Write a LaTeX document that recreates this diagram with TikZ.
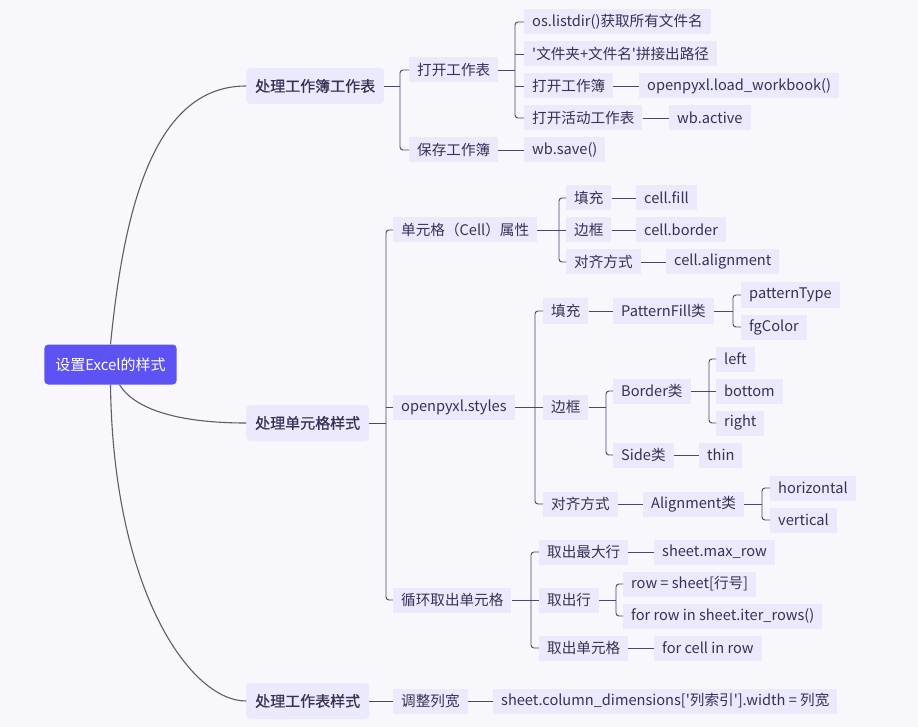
\documentclass[tikz,border=0pt]{standalone}
\usepackage{fontspec}
\setmainfont{Noto Sans CJK SC}
\newfontfamily\topicfont{Noto Sans CJK SC}[FakeBold=0.7]
\definecolor{bg}{HTML}{F7F7FC}
\definecolor{rootpurple}{HTML}{5D52F4}
\definecolor{nodefill}{HTML}{EBE9FC}
\definecolor{ink}{HTML}{3A2F55}
\definecolor{linecol}{HTML}{4E4470}
\definecolor{curvecol}{HTML}{5E5E62}
\tikzset{
  root/.style={fill=rootpurple, text=white, rounded corners=4pt, minimum height=40pt, inner xsep=11pt, font=\fontsize{15}{18}\selectfont},
  topic/.style={fill=nodefill, text=ink, rounded corners=4pt, minimum height=36pt, inner xsep=9pt, anchor=west, font=\fontsize{15}{18}\topicfont},
  leaf/.style={fill=nodefill, text=ink, minimum height=25pt, inner xsep=8pt, anchor=west, font=\fontsize{14.6}{17}\selectfont},
  branch/.style={draw=curvecol, line width=1.1pt},
  link/.style={draw=linecol, line width=0.9pt},
}
\begin{document}
\begin{tikzpicture}[x=1pt,y=-1pt]
\fill[bg] (0,0) rectangle (918,727);
\useasboundingbox (0,0) rectangle (918,727);
% root and topics
\node[root] (root) at (110.5,364.5) {设置Excel的样式};
\node[topic] (wb) at (246,86) {处理工作簿工作表};
\node[topic] (cellsty) at (246,423) {处理单元格样式};
\node[topic] (wssty) at (246,701) {处理工作表样式};
\draw[branch] (root.north) .. controls (123,220) and (150,86) .. (wb.west);
\draw[branch] ([xshift=9pt]root.south) .. controls (135,410) and (180,423) .. (cellsty.west);
\draw[branch] (root.south) .. controls (113,590) and (190,701) .. (wssty.west);

% workbook / worksheet
\node[leaf] (open) at (409,70) {打开工作表};
\node[leaf] (save) at (409,150) {保存工作簿};
\node[leaf] (listdir) at (524,22) {os.listdir()获取所有文件名};
\node[leaf] (path) at (524,54) {\textquotesingle 文件夹+文件名\textquotesingle 拼接出路径};
\node[leaf] (openwb) at (524,86) {打开工作簿};
\node[leaf] (loadwb) at (639,86) {openpyxl.load\_workbook()};
\node[leaf] (openws) at (524,118) {打开活动工作表};
\node[leaf] (active) at (669,118) {wb.active};
\node[leaf] (wbsave) at (524,150) {wb.save()};
\coordinate (b1) at (400,0);
\coordinate (b2) at (515,0);
\draw[link] (wb.east) -- (wb.east -| b1);
\draw[link,rounded corners=3pt] (open.west) -- (open.west -| b1) -- (save.west -| b1) -- (save.west);
\draw[link] (open.east) -- (open.east -| b2);
\draw[link,rounded corners=3pt] (listdir.west) -- (listdir.west -| b2) -- (openws.west -| b2) -- (openws.west);
\foreach \c in {path,openwb}
  \draw[link] (\c.west) -- (\c.west -| b2);
\draw[link] (openwb) -- (loadwb);
\draw[link] (openws) -- (active);
\draw[link] (save) -- (wbsave);

% cell styles
\node[leaf] (cellattr) at (393,230) {单元格（Cell）属性};
\node[leaf] (styles) at (393,407) {openpyxl.styles};
\node[leaf] (loop) at (393,600) {循环取出单元格};
\coordinate (b3) at (386,0);
\draw[link] (cellsty.east) -- (cellsty.east -| b3);
\draw[link,rounded corners=3pt] (cellattr.west) -- (cellattr.west -| b3) -- (loop.west -| b3) -- (loop.west);
\draw[link] (styles.west) -- (styles.west -| b3);

\node[leaf] (fill1) at (566,198) {填充};
\node[leaf] (cellfill) at (636,198) {cell.fill};
\node[leaf] (border1) at (566,230) {边框};
\node[leaf] (cellborder) at (636,230) {cell.border};
\node[leaf] (align1) at (566,262) {对齐方式};
\node[leaf] (cellalign) at (666,262) {cell.alignment};
\coordinate (b4) at (559,0);
\draw[link] (cellattr.east) -- (cellattr.east -| b4);
\draw[link,rounded corners=3pt] (fill1.west) -- (fill1.west -| b4) -- (align1.west -| b4) -- (align1.west);
\draw[link] (border1.west) -- (border1.west -| b4);
\draw[link] (fill1) -- (cellfill);
\draw[link] (border1) -- (cellborder);
\draw[link] (align1) -- (cellalign);

\node[leaf] (fill2) at (543,311) {填充};
\node[leaf] (patfill) at (613,311) {PatternFill类};
\node[leaf] (pattype) at (741,295) {patternType};
\node[leaf] (fgcolor) at (741,327) {fgColor};
\node[leaf] (border2) at (543,407) {边框};
\node[leaf] (borderc) at (613,391) {Border类};
\node[leaf] (left) at (716,359) {left};
\node[leaf] (bottom) at (716,391) {bottom};
\node[leaf] (right) at (716,423) {right};
\node[leaf] (side) at (613,455) {Side类};
\node[leaf] (thin) at (699,455) {thin};
\node[leaf] (align2) at (543,504) {对齐方式};
\node[leaf] (alignc) at (643,504) {Alignment类};
\node[leaf] (horiz) at (770,488) {horizontal};
\node[leaf] (vert) at (770,520) {vertical};
\coordinate (b5) at (535,0);
\coordinate (b6) at (733,0);
\coordinate (b7) at (606,0);
\coordinate (b8) at (709,0);
\coordinate (b9) at (762,0);
\draw[link] (styles.east) -- (styles.east -| b5);
\draw[link,rounded corners=3pt] (fill2.west) -- (fill2.west -| b5) -- (align2.west -| b5) -- (align2.west);
\draw[link] (border2.west) -- (border2.west -| b5);
\draw[link] (fill2) -- (patfill);
\draw[link] (patfill.east) -- (patfill.east -| b6);
\draw[link,rounded corners=3pt] (pattype.west) -- (pattype.west -| b6) -- (fgcolor.west -| b6) -- (fgcolor.west);
\draw[link] (border2.east) -- (border2.east -| b7);
\draw[link,rounded corners=3pt] (borderc.west) -- (borderc.west -| b7) -- (side.west -| b7) -- (side.west);
\draw[link] (borderc.east) -- (borderc.east -| b8);
\draw[link,rounded corners=3pt] (left.west) -- (left.west -| b8) -- (right.west -| b8) -- (right.west);
\draw[link] (bottom.west) -- (bottom.west -| b8);
\draw[link] (side) -- (thin);
\draw[link] (align2) -- (alignc);
\draw[link] (alignc.east) -- (alignc.east -| b9);
\draw[link,rounded corners=3pt] (horiz.west) -- (horiz.west -| b9) -- (vert.west -| b9) -- (vert.west);

\node[leaf] (maxrow) at (539,552) {取出最大行};
\node[leaf] (maxrowc) at (654,552) {sheet.max\_row};
\node[leaf] (getrow) at (539,600) {取出行};
\node[leaf] (rowidx) at (623,584) {row = sheet[行号]};
\node[leaf] (iterrows) at (623,616) {for row in sheet.iter\_rows()};
\node[leaf] (getcell) at (539,648) {取出单元格};
\node[leaf] (cellrow) at (654,648) {for cell in row};
\coordinate (b10) at (531,0);
\coordinate (b11) at (616,0);
\draw[link] (loop.east) -- (loop.east -| b10);
\draw[link,rounded corners=3pt] (maxrow.west) -- (maxrow.west -| b10) -- (getcell.west -| b10) -- (getcell.west);
\draw[link] (getrow.west) -- (getrow.west -| b10);
\draw[link] (maxrow) -- (maxrowc);
\draw[link] (getrow.east) -- (getrow.east -| b11);
\draw[link,rounded corners=3pt] (rowidx.west) -- (rowidx.west -| b11) -- (iterrows.west -| b11) -- (iterrows.west);
\draw[link] (getcell) -- (cellrow);

% worksheet style
\node[leaf] (colw) at (393,701) {调整列宽};
\node[leaf] (coldim) at (493,701) {sheet.column\_dimensions[\textquotesingle 列索引\textquotesingle].width = 列宽};
\draw[link] (wssty) -- (colw);
\draw[link] (colw) -- (coldim);
\end{tikzpicture}
\end{document}
